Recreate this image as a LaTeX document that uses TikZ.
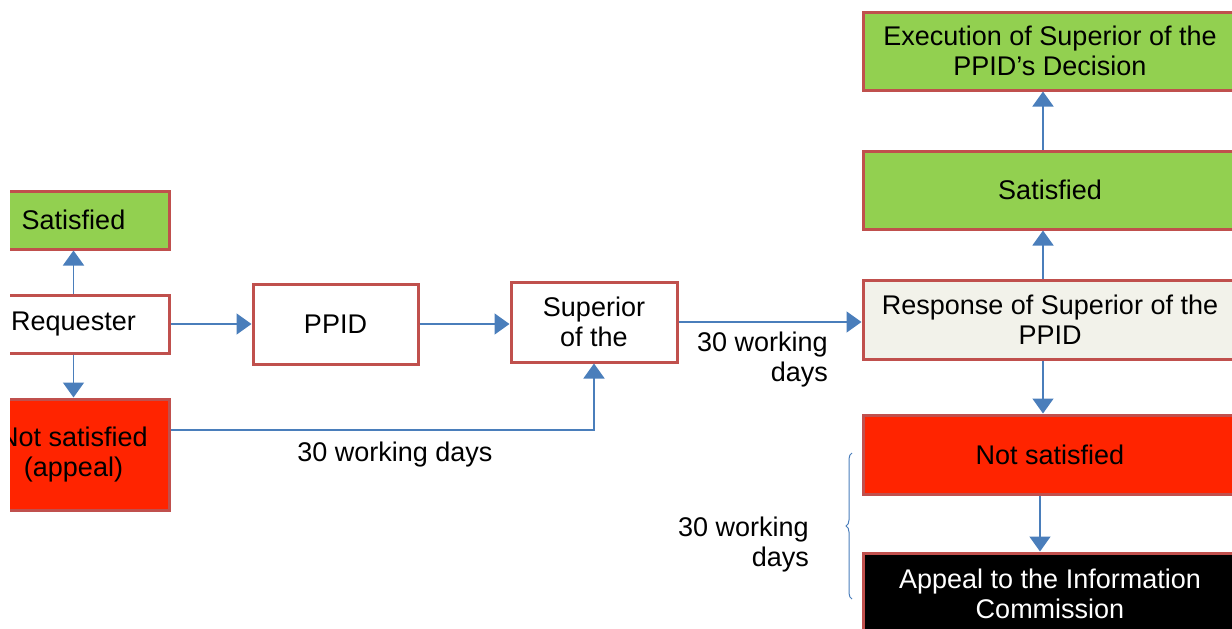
\documentclass[tikz,border=0pt]{standalone}
\usepackage{fontspec}
\setmainfont{Liberation Sans}
\usetikzlibrary{arrows.meta,decorations.pathreplacing}
\definecolor{okgreen}{HTML}{92D050}
\definecolor{nored}{HTML}{FF2400}
\definecolor{edgered}{HTML}{C0504D}
\definecolor{flowblue}{HTML}{4A7EBB}
\definecolor{paper}{HTML}{F2F2EA}
\tikzset{
  box/.style={draw=edgered, line width=3pt, rectangle, align=center,
    inner sep=0pt, font=\fontsize{27}{30}\selectfont},
  greenbox/.style={box, fill=okgreen},
  redbox/.style={box, fill=nored},
  plainbox/.style={box, fill=white},
  flow/.style={draw=flowblue, line width=1.6pt, -{Triangle[width=21pt,length=15pt]}},
  note/.style={font=\fontsize{27}{30}\selectfont, inner sep=0pt}
}
\begin{document}
\begin{tikzpicture}[x=1pt,y=-1pt]
\useasboundingbox (0,0) rectangle (1232,629);
\clip (10,0) rectangle (1232,629);

% left column
\node[greenbox, minimum width=191pt, minimum height=58pt] (satL) at (73.5,220) {Satisfied};
\node[plainbox, minimum width=191pt, minimum height=58pt] (req) at (73.5,324) {Requester};
\node[redbox, minimum width=191pt, minimum height=111pt] (nsL) at (73.5,454.5) {Not satisfied\\(appeal)};

% middle
\node[plainbox, minimum width=165pt, minimum height=80pt] (ppid) at (335.5,324) {PPID};
\node[plainbox, minimum width=166pt, minimum height=80pt] (sup) at (594,322) {Superior\\of the};

% right column
\node[greenbox, minimum width=374pt, minimum height=78pt] (exec) at (1050,51) {Execution of Superior of the\\PPID’s Decision};
\node[greenbox, minimum width=374pt, minimum height=78pt] (satR) at (1050,190) {Satisfied};
\node[box, fill=paper, minimum width=374pt, minimum height=79pt] (resp) at (1050,319.5) {Response of Superior of the\\PPID};
\node[redbox, minimum width=374pt, minimum height=79pt] (nsR) at (1050,454.5) {Not satisfied};
\node[box, fill=black, text=white, minimum width=374pt, minimum height=82pt] (appeal) at (1050,594) {Appeal to the Information\\Commission};

% connectors
\draw[flow] (req.north) -- (satL.south);
\draw[flow] (req.south) -- (nsL.north);
\draw[flow] (req.east) -- (ppid.west);
\draw[flow] (ppid.east) -- (ppid.east -| sup.west);
\draw[flow] (sup.east) -- (sup.east -| resp.west);
\draw[flow] ([yshift=24.5pt]nsL.east) -| (sup.south);
\draw[flow] ([xshift=-7pt]resp.north) -- ([xshift=-7pt]satR.south);
\draw[flow] ([xshift=-7pt]satR.north) -- ([xshift=-7pt]exec.south);
\draw[flow] ([xshift=-7pt]resp.south) -- ([xshift=-7pt]nsR.north);
\draw[flow] ([xshift=-10pt]nsR.south) -- ([xshift=-10pt]appeal.north);

% labels
\node[note] (lblA) at (395,455) {30 working days};
\node[note, align=right, anchor=east] (lblB) at (828,360) {30 working\\days};
\node[note, align=right, anchor=east] (lblC) at (809,545) {30 working\\days};

% brace
\coordinate (braceLow) at (852,599);
\coordinate (braceHigh) at (852,453);
\draw[draw=flowblue, line width=1pt, decorate, decoration={brace, amplitude=6pt}] (braceLow) -- (braceHigh);
\end{tikzpicture}
\end{document}
